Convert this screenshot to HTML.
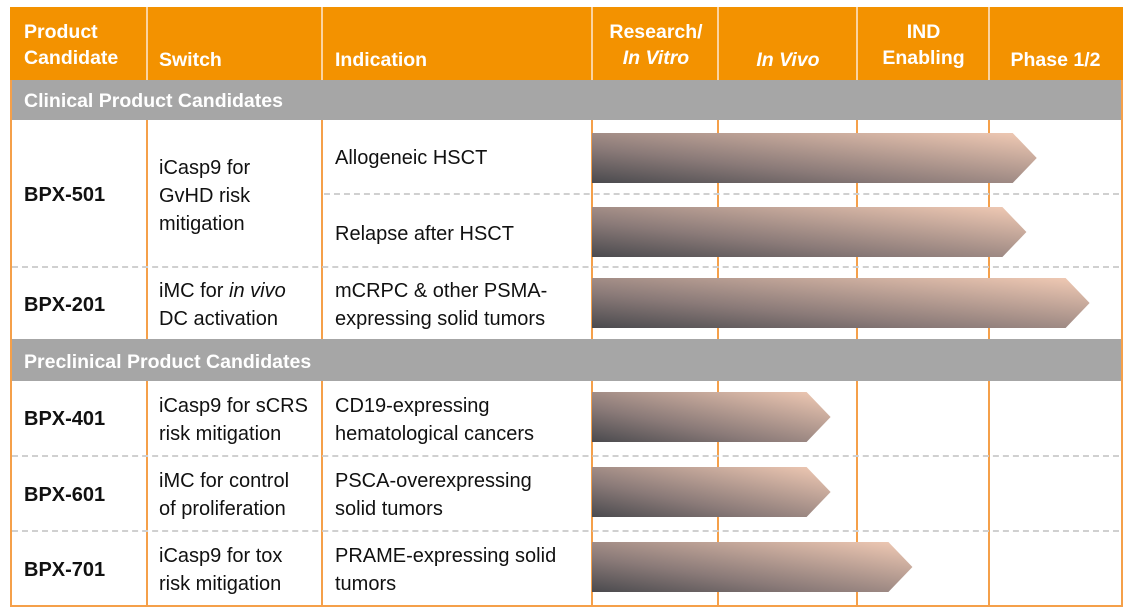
<!DOCTYPE html>
<html><head><meta charset="utf-8"><style>
body{margin:0;width:1126px;height:612px;background:#fff;overflow:hidden;font-family:"Liberation Sans",sans-serif;}
.abs{position:absolute;white-space:nowrap;}
.hd{color:#fff;font-weight:bold;font-size:19.5px;line-height:26px;}
.tx{color:#111;font-size:20px;line-height:28px;}
.b{font-weight:bold;color:#111;font-size:20px;}
.vl{position:absolute;width:2px;background:#f5a04a;}
.dl{position:absolute;height:0;border-top:2px dashed #d0d0d0;}
</style></head><body>
<div class="abs" style="left:10px;top:7px;width:1109px;height:596px;border:2px solid #f5a04a;"></div>
<div class="abs" style="left:10px;top:7px;width:1113px;height:73px;background:#f39200;"></div>
<div class="abs" style="left:12px;top:80px;width:1109px;height:40px;background:#a6a6a6;"></div>
<div class="abs" style="left:12px;top:339px;width:1109px;height:42px;background:#a6a6a6;"></div>
<div class="vl" style="left:146px;top:7px;height:73px;background:#fbd3a0"></div>
<div class="vl" style="left:321px;top:7px;height:73px;background:#fbd3a0"></div>
<div class="vl" style="left:591px;top:7px;height:73px;background:#fbd3a0"></div>
<div class="vl" style="left:717px;top:7px;height:73px;background:#fbd3a0"></div>
<div class="vl" style="left:856px;top:7px;height:73px;background:#fbd3a0"></div>
<div class="vl" style="left:988px;top:7px;height:73px;background:#fbd3a0"></div>
<div class="vl" style="left:146px;top:120px;height:219px"></div>
<div class="vl" style="left:321px;top:120px;height:219px"></div>
<div class="vl" style="left:591px;top:120px;height:219px"></div>
<div class="vl" style="left:717px;top:120px;height:219px"></div>
<div class="vl" style="left:856px;top:120px;height:219px"></div>
<div class="vl" style="left:988px;top:120px;height:219px"></div>
<div class="vl" style="left:146px;top:381px;height:224px"></div>
<div class="vl" style="left:321px;top:381px;height:224px"></div>
<div class="vl" style="left:591px;top:381px;height:224px"></div>
<div class="vl" style="left:717px;top:381px;height:224px"></div>
<div class="vl" style="left:856px;top:381px;height:224px"></div>
<div class="vl" style="left:988px;top:381px;height:224px"></div>
<div class="dl" style="left:324px;top:193px;width:795px"></div>
<div class="dl" style="left:12px;top:266px;width:1107px"></div>
<div class="dl" style="left:12px;top:455px;width:1107px"></div>
<div class="dl" style="left:12px;top:530px;width:1107px"></div>
<div class="abs hd" style="left:24px;top:19px">Product<br>Candidate</div>
<div class="abs hd" style="left:159px;top:47px">Switch</div>
<div class="abs hd" style="left:335px;top:47px">Indication</div>
<div class="abs hd" style="left:593px;top:19px;width:126px;text-align:center">Research/<br><i>In Vitro</i></div>
<div class="abs hd" style="left:719px;top:47px;width:138px;text-align:center"><i>In Vivo</i></div>
<div class="abs hd" style="left:858px;top:19px;width:131px;text-align:center">IND<br>Enabling</div>
<div class="abs hd" style="left:990px;top:47px;width:131px;text-align:center">Phase 1/2</div>
<div class="abs hd" style="left:24px;top:88px">Clinical Product Candidates</div>
<div class="abs hd" style="left:24px;top:349px">Preclinical Product Candidates</div>
<div class="abs b" style="left:24px;top:184px">BPX-501</div>
<div class="abs tx" style="left:159px;top:154px">iCasp9 for<br>GvHD risk<br>mitigation</div>
<div class="abs tx" style="left:335px;top:144px">Allogeneic HSCT</div>
<div class="abs tx" style="left:335px;top:220px">Relapse after HSCT</div>
<div class="abs b" style="left:24px;top:294px">BPX-201</div>
<div class="abs tx" style="left:159px;top:277px">iMC for <i>in vivo</i><br>DC activation</div>
<div class="abs tx" style="left:335px;top:277px">mCRPC &amp; other PSMA-<br>expressing solid tumors</div>
<div class="abs b" style="left:24px;top:408px">BPX-401</div>
<div class="abs tx" style="left:159px;top:392px">iCasp9 for sCRS<br>risk mitigation</div>
<div class="abs tx" style="left:335px;top:392px">CD19-expressing<br>hematological cancers</div>
<div class="abs b" style="left:24px;top:484px">BPX-601</div>
<div class="abs tx" style="left:159px;top:467px">iMC for control<br>of proliferation</div>
<div class="abs tx" style="left:335px;top:467px">PSCA-overexpressing<br>solid tumors</div>
<div class="abs b" style="left:24px;top:559px">BPX-701</div>
<div class="abs tx" style="left:159px;top:542px">iCasp9 for tox<br>risk mitigation</div>
<div class="abs tx" style="left:335px;top:542px">PRAME-expressing solid<br>tumors</div>
<svg class="abs" style="left:0;top:0" width="1126" height="612">
<defs><linearGradient id="g" x1="0" y1="1" x2="1" y2="0" gradientUnits="objectBoundingBox">
<stop offset="0" stop-color="#4a4a4e"/><stop offset="0.35" stop-color="#8a7a78"/><stop offset="1" stop-color="#f2cbb5"/></linearGradient></defs>
<g id="arrows"></g>
</svg>
<script>
const programs = ["Allogeneic HSCT","Relapse after HSCT","BPX-201","BPX-401","BPX-601","BPX-701"];
const progress = [3.37, 3.29, 3.78, 1.81, 1.81, 2.42];
const rowCenters = [158, 232, 303, 417, 492, 567];
const stageEdges = [592, 718, 857, 989, 1118];
function xScale(v){const i=Math.min(Math.floor(v),3);return stageEdges[i]+(v-i)*(stageEdges[i+1]-stageEdges[i]);}
const g=document.getElementById('arrows');
progress.forEach((v,i)=>{
  const x0=stageEdges[0], tip=xScale(v), cy=rowCenters[i], h=25, pt=24;
  const p=document.createElementNS('http://www.w3.org/2000/svg','polygon');
  p.setAttribute('points',`${x0},${cy-h} ${tip-pt},${cy-h} ${tip},${cy} ${tip-pt},${cy+h} ${x0},${cy+h}`);
  p.setAttribute('fill','url(#g)');
  
  
  g.appendChild(p);
});
</script>
</body></html>
